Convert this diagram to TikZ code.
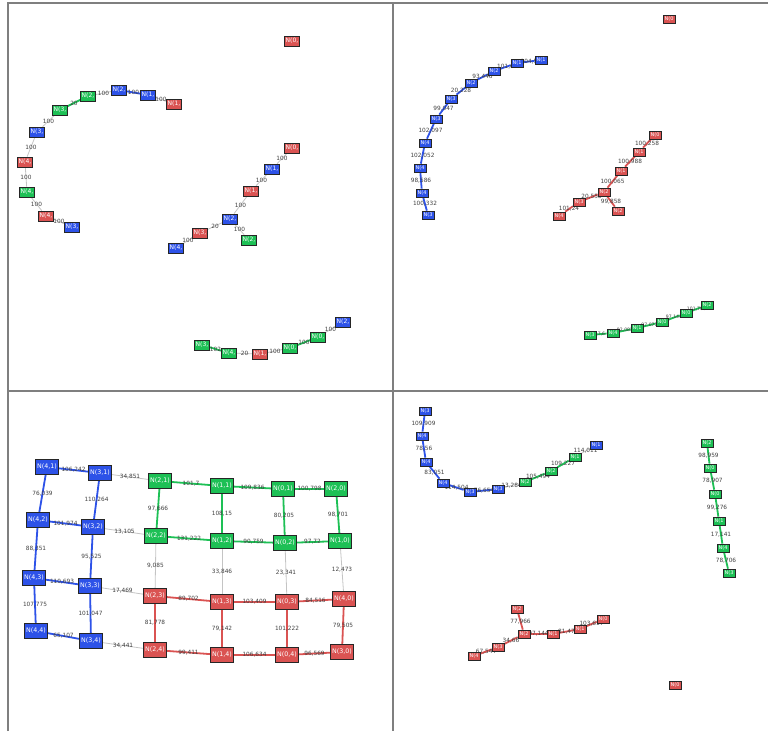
\documentclass[tikz,border=0pt]{standalone}
\usepackage{fontspec}
\setsansfont{DejaVu Sans}
\usetikzlibrary{backgrounds}
\definecolor{nodeBlue}{HTML}{2D52E8}
\definecolor{nodeGreen}{HTML}{1DC055}
\definecolor{nodeRed}{HTML}{DA5352}
\definecolor{edgeGray}{HTML}{C4C4C4}
\definecolor{frameGray}{HTML}{7F7F7F}
\tikzset{
  cnode/.style = {rectangle, draw=black!85, line width=0.7pt, inner sep=0pt,
                  text=white, font=\sffamily\fontsize{6}{6}\selectfont},
  tlnode/.style = {cnode, minimum width=15pt, minimum height=10pt},
  smnode/.style = {cnode, minimum width=12pt, minimum height=8pt,
                   font=\sffamily\fontsize{5}{5}\selectfont},
  gridnode/.style = {cnode, minimum width=23pt, minimum height=15pt,
                     font=\sffamily\fontsize{6.3}{7}\selectfont},
  nb/.style = {fill=nodeBlue},
  ng/.style = {fill=nodeGreen},
  nr/.style = {fill=nodeRed},
  wlabel/.style = {font=\sffamily\fontsize{5.8}{6}\selectfont, text=black!75, inner sep=0pt},
  egray/.style = {edgeGray, line width=0.8pt},
  eblue/.style = {nodeBlue, line width=1.8pt},
  egreen/.style = {nodeGreen, line width=1.8pt},
  ered/.style = {nodeRed, line width=1.8pt},
}

\begin{document}
\begin{tikzpicture}[x=1pt,y=-1pt]
  \useasboundingbox (0,0) rectangle (768,731);

  % Panel frames
  \draw[frameGray, line width=1.5pt] (8,731) -- (8,3) -- (768,3);
  \draw[frameGray, line width=1.5pt] (8,391) -- (768,391);
  \draw[frameGray, line width=1.5pt] (393,3) -- (393,731);

  % === TOP LEFT: uniform weights ===
  \node[tlnode, nr] (a1) at (174,104) {N(1,};
  \node[tlnode, nb] (a2) at (148,95) {N(1,};
  \node[tlnode, nb] (a3) at (119,90) {N(2,};
  \node[tlnode, ng] (a4) at (88,96) {N(2,};
  \node[tlnode, ng] (a5) at (60,110) {N(3,};
  \node[tlnode, nb] (a6) at (37,132) {N(3,};
  \node[tlnode, nr] (a7) at (25,162) {N(4,};
  \node[tlnode, ng] (a8) at (27,192) {N(4,};
  \node[tlnode, nr] (a9) at (46,216) {N(4,};
  \node[tlnode, nb] (a10) at (72,227) {N(3,};

  \node[tlnode, nr] (a11) at (292,148) {N(0,};
  \node[tlnode, nb] (a12) at (272,169) {N(1,};
  \node[tlnode, nr] (a13) at (251,191) {N(1,};
  \node[tlnode, nb] (a14) at (230,219) {N(2,};
  \node[tlnode, nr] (a15) at (200,233) {N(3,};
  \node[tlnode, nb] (a16) at (176,248) {N(4,};
  \node[tlnode, ng] (a17) at (249,240) {N(2,};

  \node[tlnode, ng] (a18) at (202,345) {N(3,};
  \node[tlnode, ng] (a19) at (229,353) {N(4,};
  \node[tlnode, nr] (a20) at (260,354) {N(1,};
  \node[tlnode, ng] (a21) at (290,348) {N(0,};
  \node[tlnode, ng] (a22) at (318,337) {N(0,};
  \node[tlnode, nb] (a23) at (343,322) {N(2,};

  \node[tlnode, nr] (a24) at (292,41) {N(0,};

  % === TOP RIGHT ===
  \node[smnode, nb] (b1) at (541,60) {N(1};
  \node[smnode, nb] (b2) at (517,63) {N(1};
  \node[smnode, nb] (b3) at (494,71) {N(2};
  \node[smnode, nb] (b4) at (471,83) {N(2};
  \node[smnode, nb] (b5) at (451,99) {N(3};
  \node[smnode, nb] (b6) at (436,119) {N(3};
  \node[smnode, nb] (b7) at (425,143) {N(4};
  \node[smnode, nb] (b8) at (420,168) {N(4};
  \node[smnode, nb] (b9) at (422,193) {N(4};
  \node[smnode, nb] (b10) at (428,215) {N(3};

  \node[smnode, nr] (b11) at (655,135) {N(0};
  \node[smnode, nr] (b12) at (639,152) {N(1};
  \node[smnode, nr] (b13) at (621,171) {N(1};
  \node[smnode, nr] (b14) at (604,192) {N(2};
  \node[smnode, nr] (b15) at (579,202) {N(3};
  \node[smnode, nr] (b16) at (559,216) {N(4};
  \node[smnode, nr] (b17) at (618,211) {N(2};
  \node[smnode, nr] (b18) at (669,19) {N(0};

  \node[smnode, ng] (b19) at (707,305) {N(2};
  \node[smnode, ng] (b20) at (686,313) {N(0};
  \node[smnode, ng] (b21) at (662,322) {N(0};
  \node[smnode, ng] (b22) at (637,328) {N(1};
  \node[smnode, ng] (b23) at (613,333) {N(4};
  \node[smnode, ng] (b24) at (590,335) {N(3};

  % === BOTTOM LEFT: grid ===
  \node[gridnode, nb] (c41) at (47,467) {N(4,1)};
  \node[gridnode, nb] (c31) at (100,473) {N(3,1)};
  \node[gridnode, ng] (c21) at (160,481) {N(2,1)};
  \node[gridnode, ng] (c11) at (222,486) {N(1,1)};
  \node[gridnode, ng] (c01) at (283,489) {N(0,1)};
  \node[gridnode, ng] (c20) at (336,489) {N(2,0)};

  \node[gridnode, nb] (c42) at (38,520) {N(4,2)};
  \node[gridnode, nb] (c32) at (93,527) {N(3,2)};
  \node[gridnode, ng] (c22) at (156,536) {N(2,2)};
  \node[gridnode, ng] (c12) at (222,541) {N(1,2)};
  \node[gridnode, ng] (c02) at (285,543) {N(0,2)};
  \node[gridnode, ng] (c10) at (340,541) {N(1,0)};

  \node[gridnode, nb] (c43) at (34,578) {N(4,3)};
  \node[gridnode, nb] (c33) at (90,586) {N(3,3)};
  \node[gridnode, nr] (c23) at (155,596) {N(2,3)};
  \node[gridnode, nr] (c13) at (222,602) {N(1,3)};
  \node[gridnode, nr] (c03) at (287,602) {N(0,3)};
  \node[gridnode, nr] (c40) at (344,599) {N(4,0)};

  \node[gridnode, nb] (c44) at (36,631) {N(4,4)};
  \node[gridnode, nb] (c34) at (91,641) {N(3,4)};
  \node[gridnode, nr] (c24) at (155,650) {N(2,4)};
  \node[gridnode, nr] (c14) at (222,655) {N(1,4)};
  \node[gridnode, nr] (c04) at (287,655) {N(0,4)};
  \node[gridnode, nr] (c30) at (342,652) {N(3,0)};

  % === BOTTOM RIGHT ===
  \node[smnode, nb] (d1) at (425,411) {N(3};
  \node[smnode, nb] (d2) at (422,436) {N(4};
  \node[smnode, nb] (d3) at (426,462) {N(4};
  \node[smnode, nb] (d4) at (443,483) {N(4};
  \node[smnode, nb] (d5) at (470,492) {N(3};
  \node[smnode, nb] (d6) at (498,489) {N(3};
  \node[smnode, ng] (d7) at (525,482) {N(2};
  \node[smnode, ng] (d8) at (551,471) {N(2};
  \node[smnode, ng] (d9) at (575,457) {N(1};
  \node[smnode, nb] (d10) at (596,445) {N(1};

  \node[smnode, ng] (d11) at (707,443) {N(2};
  \node[smnode, ng] (d12) at (710,468) {N(0};
  \node[smnode, ng] (d13) at (715,494) {N(0};
  \node[smnode, ng] (d14) at (719,521) {N(1};
  \node[smnode, ng] (d15) at (723,548) {N(4};
  \node[smnode, ng] (d16) at (729,573) {N(3};

  \node[smnode, nr] (d17) at (517,609) {N(2};
  \node[smnode, nr] (d18) at (524,634) {N(2};
  \node[smnode, nr] (d19) at (553,634) {N(1};
  \node[smnode, nr] (d20) at (580,629) {N(1};
  \node[smnode, nr] (d21) at (603,619) {N(0};
  \node[smnode, nr] (d22) at (498,647) {N(3};
  \node[smnode, nr] (d23) at (474,656) {N(4};
  \node[smnode, nr] (d24) at (675,685) {N(0};

  % === EDGES (behind the nodes) ===
  \begin{scope}[on background layer]
    \foreach \u/\v/\w/\s in {a1/a2/100/egray, a2/a3/100/eblue, a3/a4/100/egray,
        a4/a5/20/egreen, a5/a6/100/egray, a6/a7/100/egray, a7/a8/100/egray,
        a8/a9/100/egray, a9/a10/100/egray,
        a11/a12/100/egray, a12/a13/100/egray, a13/a14/100/egray,
        a14/a15/20/egray, a15/a16/100/egray, a14/a17/100/egray,
        a18/a19/102/egreen, a19/a20/20/egray, a20/a21/100/egray,
        a21/a22/100/egreen, a22/a23/100/egray}
      \draw[\s] (\u) -- node[wlabel] {\w} (\v);

    \foreach \u/\v/\w/\s in {b1/b2/{104,5}/eblue, b2/b3/{101,6}/eblue,
        b3/b4/{93,446}/eblue, b4/b5/{20,228}/eblue, b5/b6/{99,047}/eblue,
        b6/b7/{102,097}/eblue, b7/b8/{102,052}/eblue, b8/b9/{98,586}/eblue,
        b9/b10/{100,332}/eblue,
        b11/b12/{100,258}/ered, b12/b13/{100,988}/ered, b13/b14/{100,065}/ered,
        b14/b15/{20,553}/ered, b15/b16/{101,24}/ered, b14/b17/{99,858}/ered}
      \draw[\s] (\u) -- node[wlabel] {\w} (\v);

    % short green chain: labels set smaller, as they are crowded there
    \foreach \u/\v/\w in {b19/b20/{101,708}, b20/b21/{97,144}, b21/b22/{97,071},
        b22/b23/{92,083}, b23/b24/{7,6}}
      \draw[egreen] (\u) -- node[wlabel, font=\sffamily\fontsize{4.6}{5}\selectfont] {\w} (\v);

    \foreach \u/\v/\w/\s in {c41/c31/{106,242}/eblue, c31/c21/{34,851}/egray,
        c21/c11/{101,7}/egreen, c11/c01/{109,836}/egreen, c01/c20/{100,798}/egreen,
        c41/c42/{76,039}/eblue, c31/c32/{110,264}/eblue, c21/c22/{97,666}/egreen,
        c11/c12/{108,15}/egreen, c01/c02/{80,205}/egreen, c20/c10/{98,701}/egreen,
        c42/c32/{101,974}/eblue, c32/c22/{13,105}/egray, c22/c12/{131,222}/egreen,
        c12/c02/{90,759}/egreen, c02/c10/{97,72}/egreen,
        c42/c43/{88,351}/eblue, c32/c33/{95,525}/eblue, c22/c23/{9,085}/egray,
        c12/c13/{33,846}/egray, c02/c03/{23,341}/egray, c10/c40/{12,473}/egray,
        c43/c33/{110,693}/eblue, c33/c23/{17,469}/egray, c23/c13/{89,702}/ered,
        c13/c03/{103,409}/ered, c03/c40/{84,516}/ered,
        c43/c44/{107,775}/eblue, c33/c34/{101,047}/eblue, c23/c24/{81,778}/ered,
        c13/c14/{79,142}/ered, c03/c04/{101,222}/ered, c40/c30/{79,505}/ered,
        c44/c34/{65,107}/eblue, c34/c24/{34,441}/egray, c24/c14/{99,411}/ered,
        c14/c04/{106,634}/ered, c04/c30/{96,569}/ered}
      \draw[\s] (\u) -- node[wlabel] {\w} (\v);

    \foreach \u/\v/\w/\s in {d1/d2/{109,909}/eblue, d2/d3/{78,56}/eblue,
        d3/d4/{83,051}/eblue, d4/d5/{114,504}/eblue, d5/d6/{76,654}/eblue,
        d6/d7/{13,284}/egray, d7/d8/{105,494}/egreen, d8/d9/{109,227}/egreen,
        d9/d10/{114,011}/egray,
        d11/d12/{98,959}/egreen, d12/d13/{78,907}/egreen, d13/d14/{99,276}/egreen,
        d14/d15/{17,141}/egreen, d15/d16/{78,706}/egreen,
        d17/d18/{77,966}/ered, d18/d19/{97,144}/ered, d19/d20/{81,47}/ered,
        d20/d21/{103,617}/ered, d18/d22/{34,66}/ered, d22/d23/{67,544}/ered}
      \draw[\s] (\u) -- node[wlabel] {\w} (\v);
  \end{scope}

\end{tikzpicture}
\end{document}
